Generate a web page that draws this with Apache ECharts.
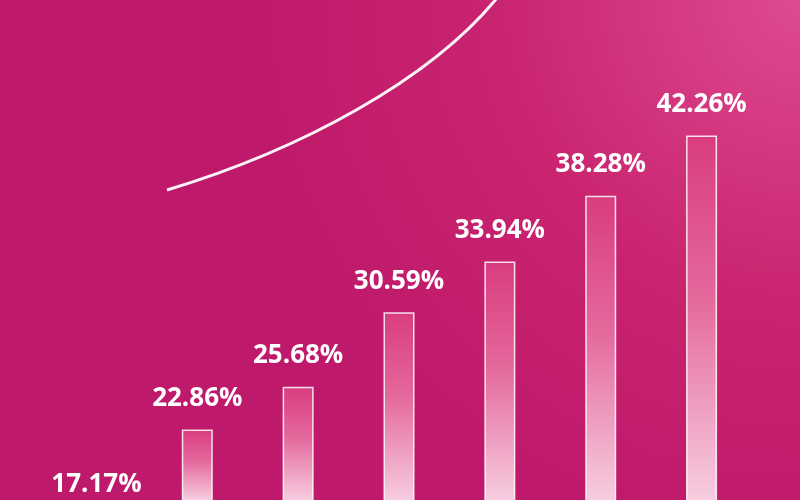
<!DOCTYPE html>
<html>
<head>
<meta charset="utf-8">
<script src="https://cdn.jsdelivr.net/npm/echarts@6/dist/echarts.min.js"></script>
<style>
  html, body { margin: 0; padding: 0; }
  #chart { width: 800px; height: 500px; }
</style>
</head>
<body>
<div id="chart"></div>
<script>
// 类目与数值
const categories = ['1', '2', '3', '4', '5', '6', '7']
const values = [17.17, 22.86, 25.68, 30.59, 33.94, 38.28, 42.26]

const axisMax = 51.2     // 画布顶部对应的值
const visibleMin = 18.2  // 画布底部对应的值

const myChart = echarts.init(document.getElementById('chart'))

/**
 * 每根柱子的渐变：只在可见部分由深到浅
 */
function barColor(params) {
    const frac = Math.max(0.05, (params.value - visibleMin) / params.value)
    return {
        type: 'linear',
        x: 0, y: 0, x2: 0, y2: frac,
        colorStops: [
            {offset: 0, color: '#d93c7f'},
            {offset: 0.45, color: '#e4699d'},
            {offset: 1, color: '#f7cde0'}
        ]
    }
}

myChart.setOption({
    backgroundColor: {
        type: 'radial',
        x: 1, y: 0, r: 1.1,
        colorStops: [
            {offset: 0, color: '#de4a91'},
            {offset: 0.55, color: '#c9246f'},
            {offset: 1, color: '#bf196b'}
        ]
    },
    grid: {
        left: 46,
        right: 48,
        top: 0,
        height: 776,
        outerBoundsMode: 'none'
    },
    xAxis: {
        type: 'category',
        data: categories,
        show: false
    },
    yAxis: {
        type: 'value',
        min: 0,
        max: axisMax,
        show: false
    },
    graphic: [{
        type: 'bezierCurve',
        shape: {x1: 167, y1: 190, x2: 497, y2: -2, cpx1: 300, cpy1: 150, cpx2: 430, cpy2: 80},
        style: {stroke: 'rgba(255,255,255,0.95)', lineWidth: 3, fill: null}
    }],
    series: [{
        type: 'bar',
        data: values,
        barWidth: 31,
        clip: false,
        animation: false,
        itemStyle: {
            color: barColor,
            borderColor: 'rgba(255,255,255,0.85)',
            borderWidth: 1.5
        },
        label: {
            show: true,
            position: 'top',
            distance: 18,
            formatter: p => `${p.value.toFixed(2)}%`,
            color: '#fff',
            fontFamily: 'Open Sans',
            fontWeight: 'bold',
            fontSize: 26
        }
    }]
})
</script>
</body>
</html>
